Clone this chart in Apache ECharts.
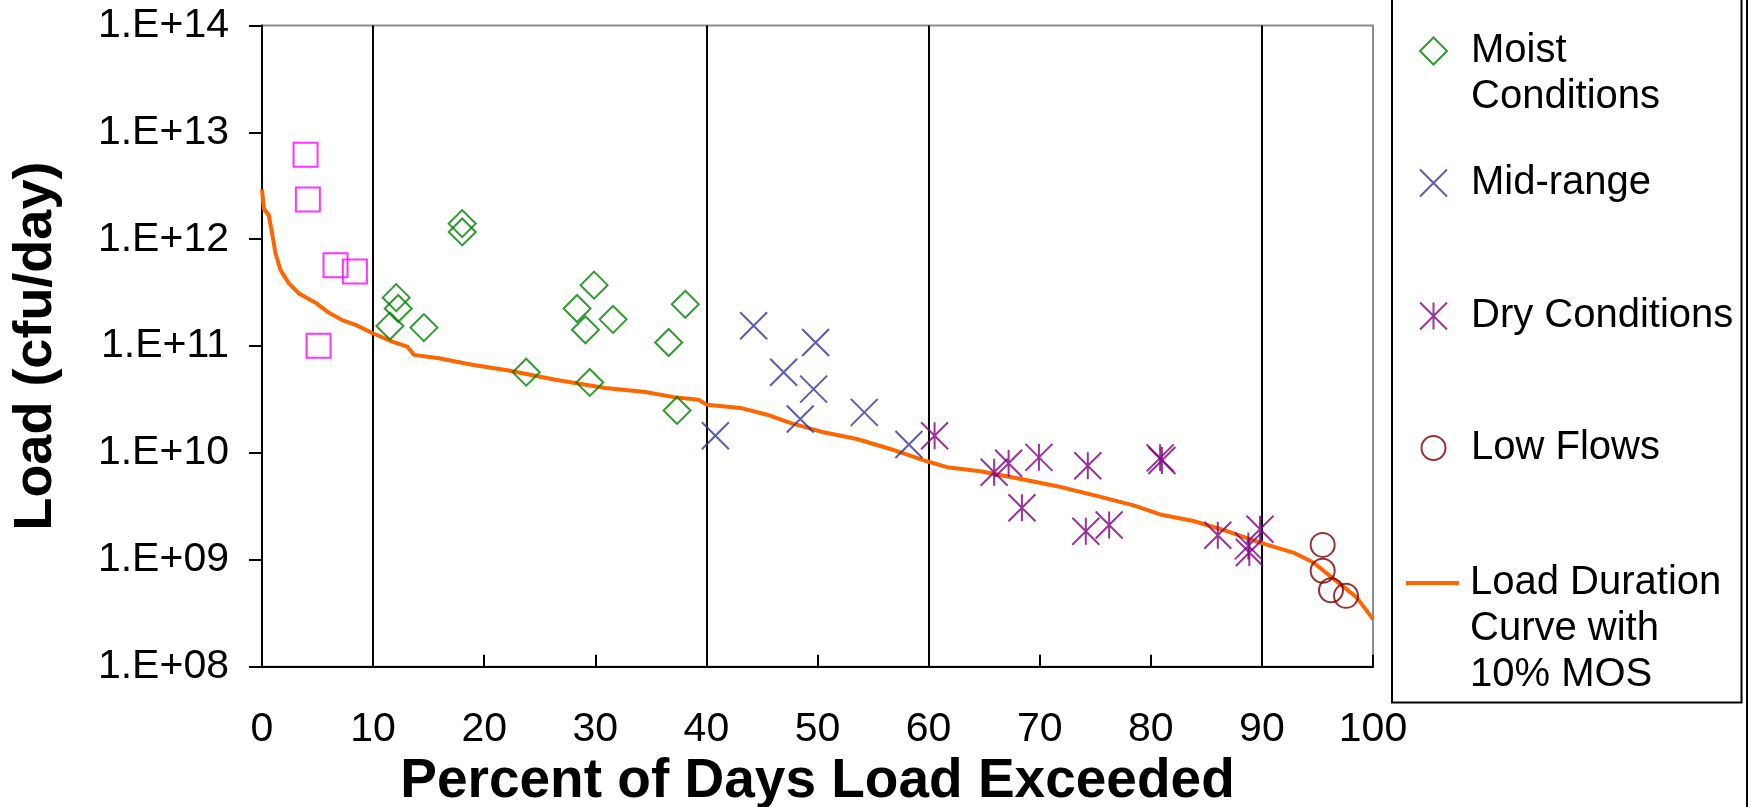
<!DOCTYPE html>
<html>
<head>
<meta charset="utf-8">
<script src="https://cdn.jsdelivr.net/npm/echarts@6/dist/echarts.min.js"></script>
<style>
  html, body { margin: 0; padding: 0; background: #ffffff; }
  #chart { width: 1752px; height: 807px; }
</style>
</head>
<body>
<div id="chart"></div>
<script>
// ---- data (percent of days exceeded, load in cfu/day) ----
const highFlows = [[3.92, 6.17e12], [4.13, 2.36e12], [6.62, 5.7e11], [8.36, 5.0e11], [5.09, 1.01e11]];
const moistConditions = [
  [11.51, 1.54e11], [12.08, 2.84e11], [12.26, 2.25e11], [14.57, 1.49e11],
  [18.02, 1.40e12], [18.02, 1.17e12], [23.78, 5.7e10], [28.36, 2.25e11],
  [29.11, 1.42e11], [29.5, 4.57e10], [29.89, 3.72e11], [31.6, 1.78e11],
  [36.6, 1.08e11], [37.36, 2.5e10], [38.1, 2.46e11]
];
const midRange = [
  [40.81, 1.45e10], [44.25, 1.55e11], [46.95, 5.7e10], [48.45, 2.08e10],
  [49.65, 3.96e10], [49.83, 1.08e11], [54.21, 2.40e10], [58.23, 1.20e10]
];
const dryConditions = [
  [60.54, 1.45e10], [65.9, 6.6e9], [67.2, 8.0e9], [68.4, 3.07e9], [69.93, 9.1e9],
  [74.15, 1.85e9], [74.33, 7.6e9], [76.25, 2.12e9], [80.84, 9.0e9], [81.0, 8.5e9],
  [86.03, 1.70e9], [88.78, 1.35e9], [88.87, 1.17e9], [89.83, 1.93e9]
];
const lowFlows = [[95.47, 1.38e9], [95.47, 7.9e8], [96.22, 5.2e8], [97.57, 4.6e8]];
const durationCurve = [
  [0, 2.92e12], [0.17, 1.93e12], [0.62, 1.67e12], [0.86, 1.21e12], [1.22, 7.35e11],
  [1.67, 5.14e11], [2.42, 3.86e11], [3.32, 3.11e11], [4.82, 2.55e11], [5.87, 2.10e11],
  [7.22, 1.75e11], [8.42, 1.58e11], [9.98, 1.32e11], [11.72, 1.10e11], [13.07, 9.9e10],
  [13.67, 8.28e10], [15.92, 7.71e10], [18.92, 6.68e10], [22.21, 5.92e10], [26.41, 4.84e10],
  [30.91, 4.05e10], [34.5, 3.72e10], [37.06, 3.33e10], [39.3, 3.15e10], [40.06, 2.82e10],
  [43.06, 2.64e10], [45.46, 2.28e10], [47.55, 1.91e10], [50.55, 1.56e10], [53.55, 1.35e10],
  [56.55, 1.09e10], [59.85, 8.36e9], [61.65, 7.36e9], [64.65, 6.75e9], [68.54, 5.65e9],
  [71.55, 4.89e9], [74.7, 4.07e9], [78.44, 3.23e9], [80.84, 2.66e9], [83.84, 2.31e9],
  [86.84, 1.86e9], [89.83, 1.45e9], [92.83, 1.17e9], [94.63, 9.44e8], [96.12, 7.08e8],
  [98.53, 4.45e8], [100, 2.79e8]
];
const regimeBounds = [10, 40, 60, 90];
const xTicks = [0, 10, 20, 30, 40, 50, 60, 70, 80, 90, 100];
const yRange = [1e8, 1e14];

const seriesNames = {
  high: 'High Flows',
  moist: 'Moist Conditions',
  mid: 'Mid-range',
  dry: 'Dry Conditions',
  low: 'Low Flows',
  curve: 'Load Duration Curve with 10% MOS'
};
const legendLines = {
  'Moist Conditions': ['Moist', 'Conditions'],
  'Mid-range': ['Mid-range'],
  'Dry Conditions': ['Dry Conditions'],
  'Low Flows': ['Low Flows'],
  'Load Duration Curve with 10% MOS': ['Load Duration', 'Curve with', '10% MOS']
};

const FONT = 'Liberation Sans, Arial, sans-serif';
const LH = 46;
const H = 807;
const ICON_CX = 1432.5;
const TEXT_X = 1470;

function legendFor(name, centerY, iconW, iconH, icon) {
  const lines = legendLines[name].length;
  const left = ICON_CX - iconW / 2;
  const dx = TEXT_X - (left + iconW + 5);
  const blockH = (2 * lines - 1) * LH;
  return {
    data: icon ? [{ name: name, icon: icon }] : [name],
    left: left,
    bottom: H - (centerY + blockH / 2),
    orient: 'vertical',
    padding: 0,
    itemWidth: iconW,
    itemHeight: iconH,
    selectedMode: false,
    formatter: n => {
      const parts = legendLines[n];
      const blanks = [];
      for (let i = 1; i < parts.length; i++) blanks.push('{b| }');
      return blanks.concat(parts.map(p => '{t|' + p + '}')).join('\n');
    },
    textStyle: {
      fontFamily: FONT, fontSize: 40, lineHeight: LH, color: '#000',
      rich: {
        t: { fontFamily: FONT, fontSize: 40, lineHeight: LH, color: '#000', padding: [0, 0, 0, dx] },
        b: { fontFamily: FONT, fontSize: 40, lineHeight: LH, color: '#000' }
      }
    }
  };
}

function hollow(color) {
  return { color: 'rgba(0,0,0,0)', borderColor: color, borderWidth: 2 };
}

const chart = echarts.init(document.getElementById('chart'), null, { renderer: 'canvas' });
chart.setOption({
  backgroundColor: '#ffffff',
  animation: false,
  grid: {
    left: 262, right: 379, top: 25.5, bottom: 140.3,
    outerBoundsMode: 'none', containLabel: false,
    show: true, borderColor: '#8c8c8c', borderWidth: 2, backgroundColor: 'transparent'
  },
  legend: [
    legendFor(seriesNames.moist, 51, 27, 27),
    legendFor(seriesNames.mid, 183, 27, 27),
    legendFor(seriesNames.dry, 316, 27, 27),
    legendFor(seriesNames.low, 448, 24, 24),
    legendFor(seriesNames.curve, 583, 53, 4, 'rect')
  ],
  xAxis: {
    type: 'value', min: xTicks[0], max: xTicks[xTicks.length - 1], interval: 10,
    name: 'Percent of Days Load Exceeded',
    nameLocation: 'middle', nameGap: 82,
    nameTextStyle: { fontFamily: FONT, fontSize: 55, fontWeight: 'bold', color: '#000' },
    axisLine: { lineStyle: { color: '#000', width: 2 } },
    axisTick: { inside: true, length: 12, lineStyle: { color: '#000', width: 2 } },
    axisLabel: { fontFamily: FONT, fontSize: 41, color: '#000', margin: 42 },
    splitLine: { show: false }
  },
  yAxis: {
    type: 'log', logBase: 10, min: yRange[0], max: yRange[1], interval: 1,
    name: 'Load (cfu/day)',
    nameLocation: 'middle', nameGap: 199,
    nameTextStyle: { fontFamily: FONT, fontSize: 54, fontWeight: 'bold', color: '#000' },
    axisLine: { show: true, lineStyle: { color: '#000', width: 2 } },
    axisTick: { show: true, inside: false, length: 13, lineStyle: { color: '#000', width: 2 } },
    axisLabel: {
      fontFamily: FONT, fontSize: 41, color: '#000', margin: 33,
      formatter: v => {
        const e = Math.round(Math.log10(v));
        return '1.E+' + (e < 10 ? '0' : '') + e;
      }
    },
    splitLine: { show: false }
  },
  graphic: [
    {
      type: 'rect', z: 0, silent: true,
      shape: { x: 1392, y: -10, width: 349.5, height: 712.5 },
      style: { fill: 'none', stroke: '#000', lineWidth: 2 }
    },
    {
      type: 'line', z: 0, silent: true,
      shape: { x1: 1747, y1: 0, x2: 1747, y2: 807 },
      style: { stroke: '#000', lineWidth: 2 }
    }
  ],
  series: [
    {
      name: seriesNames.curve, type: 'line', data: durationCurve,
      symbol: 'none', z: 3,
      lineStyle: { color: '#FF6600', width: 4 },
      itemStyle: { color: '#FF6600' },
      markLine: {
        silent: true, symbol: 'none', z: 1,
        label: { show: false },
        lineStyle: { color: '#000', width: 2, type: 'solid' },
        data: regimeBounds.map(b => ({ xAxis: b }))
      }
    },
    {
      name: seriesNames.high, type: 'scatter', data: highFlows, z: 4,
      symbol: 'rect', symbolSize: 24, itemStyle: hollow('#FF00FF')
    },
    {
      name: seriesNames.moist, type: 'scatter', data: moistConditions, z: 4,
      symbol: 'diamond', symbolSize: 27, itemStyle: hollow('#008000')
    },
    {
      name: seriesNames.mid, type: 'scatter', data: midRange, z: 4,
      symbol: 'path://M0,0L10,10M10,0L0,10', symbolSize: 27, itemStyle: hollow('#333399')
    },
    {
      name: seriesNames.dry, type: 'scatter', data: dryConditions, z: 4,
      symbol: 'path://M0,0L10,10M10,0L0,10M5,0L5,10', symbolSize: 27, itemStyle: hollow('#800080')
    },
    {
      name: seriesNames.low, type: 'scatter', data: lowFlows, z: 4,
      symbol: 'circle', symbolSize: 24, itemStyle: hollow('#800000')
    }
  ]
});
</script>
</body>
</html>
